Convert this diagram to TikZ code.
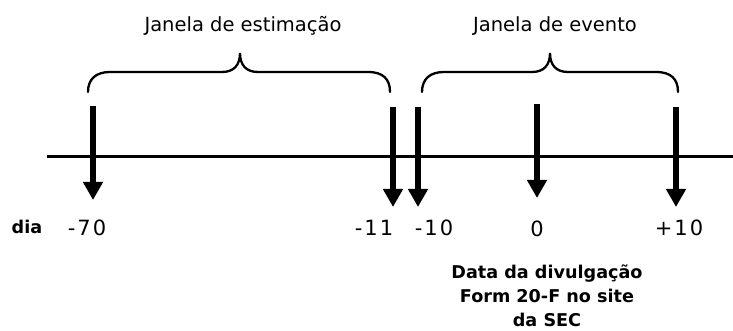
\documentclass[tikz,border=0pt]{standalone}
\usepackage{fontspec}
\setmainfont{DejaVu Sans}
\usetikzlibrary{arrows.meta}
\begin{document}
\begin{tikzpicture}[x=1pt,y=-1pt,
  lbl/.style={inner sep=0pt,font=\fontsize{19.5}{24}\selectfont},
  blbl/.style={inner sep=0pt,font=\fontsize{17.6}{24}\selectfont\bfseries},
  num/.style={inner sep=0pt,font=\fontsize{21}{24}\selectfont\addfontfeature{LetterSpace=10}},
  darrow/.style={line width=5.5pt,-{Triangle[width=19pt,length=18pt]}},
  axis/.style={line width=3pt},
  brace/.style={line width=2.3pt,line cap=round}]
\useasboundingbox (0,0) rectangle (733,331);
% axis
\coordinate (axL) at (47,157);
\coordinate (axR) at (733,157);
\draw[axis] (axL) -- (axR);
% arrows
\coordinate (a1s) at (93,106);  \coordinate (a1e) at (93,200);
\coordinate (a2s) at (393,107); \coordinate (a2e) at (393,207);
\coordinate (a3s) at (418,107); \coordinate (a3e) at (418,207);
\coordinate (a4s) at (537,104); \coordinate (a4e) at (537,198);
\coordinate (a5s) at (676,107); \coordinate (a5e) at (676,207);
\draw[darrow] (a1s) -- (a1e);
\draw[darrow] (a2s) -- (a2e);
\draw[darrow] (a3s) -- (a3e);
\draw[darrow] (a4s) -- (a4e);
\draw[darrow] (a5s) -- (a5e);
% braces
\draw[brace] (88,92) .. controls (88,79) and (96,72) .. (110,72) -- (222,72)
  .. controls (234,72) and (240,65) .. (240,53)
  .. controls (240,65) and (246,72) .. (258,72) -- (368,72)
  .. controls (383,72) and (390,79) .. (390,92);
\draw[brace] (422,92) .. controls (422,79) and (430,72) .. (444,72) -- (532,72)
  .. controls (544,72) and (550,65) .. (550,53)
  .. controls (550,65) and (556,72) .. (568,72) -- (656,72)
  .. controls (671,72) and (678,79) .. (678,92);
% labels
\node[lbl] (est) at (243,26) {Janela de estimação};
\node[lbl] (evt) at (555,26) {Janela de evento};
\node[blbl] (dia) at (27,227) {dia};
\node[num] (n70) at (87,228) {-70};
\node[num] (n11) at (374,228) {-11};
\node[num] (n10) at (434,228) {-10};
\node[num] (n0) at (537,229) {0};
\node[num] (p10) at (679,228) {+10};
\node[blbl,align=center] (sec) at (547,296) {Data da divulgação\\Form 20-F no site\\da SEC};
\end{tikzpicture}
\end{document}
